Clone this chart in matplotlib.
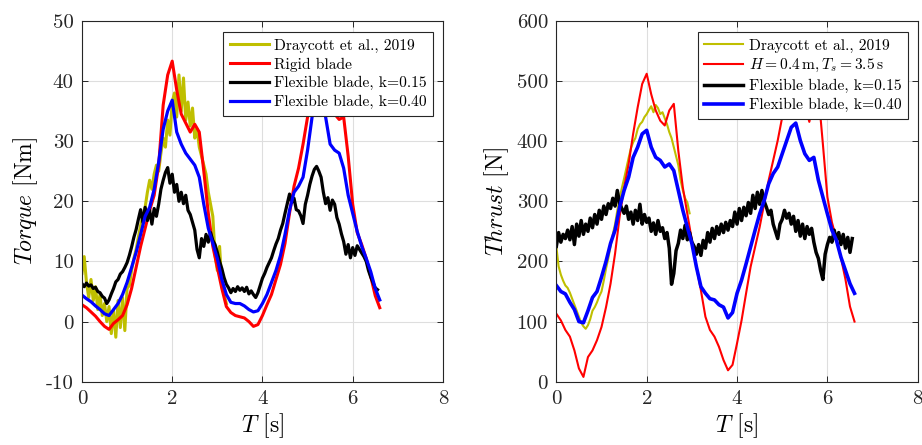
import numpy as np
import matplotlib
matplotlib.use("Agg")
import matplotlib.pyplot as plt

plt.rcParams["font.family"] = "serif"
plt.rcParams["font.serif"] = ["cmr10", "DejaVu Serif"]
plt.rcParams["mathtext.fontset"] = "cm"
plt.rcParams["axes.unicode_minus"] = False
plt.rcParams["axes.formatter.use_mathtext"] = False

# ---- torque (left) ----
dt_fine = 0.05
dt_coarse = 0.1

torque_draycott = [8.0, 10.8, 6.5, 4.0, 7.0, 3.5, 5.8, 2.0, 4.5, 1.0,
                   3.0, 0.0, 2.5, -2.0, 1.8, -2.6, 3.5, -1.0, 4.0, -1.5,
                   5.5, 6.0, 8.5, 10.5, 12.0, 14.0, 16.0, 17.5, 19.0, 21.5,
                   23.5, 22.0, 24.5, 26.0, 25.0, 28.0, 30.5, 29.0, 33.5, 31.0,
                   36.5, 38.0, 34.0, 41.0, 35.0, 40.5, 33.5, 36.5, 32.5, 35.5,
                   30.5, 32.0, 29.0, 27.5, 26.0, 24.5, 21.5, 19.5, 17.5, 11.0,
                   8.5, 12.5, 6.0, 4.5, 3.0]

torque_rigid = [2.8, 2.3, 1.6, 0.9, 0.0, -0.8, -1.3, -0.3, 0.3, 1.0,
                2.8, 5.5, 9.0, 12.5, 15.5, 18.5, 21.0, 26.0, 36.0, 41.0,
                43.3, 38.5, 34.5, 33.0, 31.5, 32.8, 31.5, 25.0, 18.0, 12.5,
                9.0, 5.5, 2.5, 1.5, 1.0, 0.8, 0.6, 0.0, -0.8, -0.5,
                1.0, 2.8, 4.5, 7.0, 9.5, 13.0, 18.0, 22.5, 25.5, 29.5,
                34.0, 38.5, 42.0, 45.0, 45.5, 40.0, 34.5, 33.6, 34.0, 27.5,
                19.5, 14.8, 12.8, 10.5, 7.5, 4.3, 2.3]

torque_k015 = [6.3, 5.8, 6.4, 5.9, 6.1, 5.5, 5.7, 5.0, 4.8, 4.2,
               3.9, 3.0, 3.6, 4.6, 5.5, 6.6, 7.0, 7.9, 8.3, 9.0,
               9.8, 11.0, 12.4, 14.0, 15.3, 17.0, 18.6, 16.5, 19.0, 16.8,
               18.5, 16.2, 18.8, 17.5, 19.5, 22.0, 23.5, 24.8, 25.6, 23.0,
               24.5, 21.5, 22.8, 20.0, 21.5, 19.6, 21.0, 18.5, 17.8, 16.5,
               15.2, 12.0, 10.6, 13.8, 12.5, 14.5, 13.2, 14.8, 13.5, 12.8,
               11.5, 10.0, 8.8, 7.3, 6.2, 5.6, 4.8, 5.5, 5.0, 5.8,
               5.2, 5.6, 5.0, 5.7, 4.6, 5.1, 4.5, 4.0, 4.8, 6.0,
               7.2, 8.0, 9.0, 9.8, 10.6, 11.8, 12.9, 13.8, 15.2, 16.3,
               18.0, 19.6, 21.2, 19.8, 20.5, 18.6, 18.4, 17.6, 16.3, 19.5,
               21.0, 22.8, 24.2, 25.3, 25.8, 25.0, 24.0, 21.5, 19.6, 20.6,
               18.5, 20.2, 19.5, 17.3, 16.2, 14.6, 13.3, 11.2, 12.8, 10.6,
               12.3, 11.0, 12.6, 12.0, 11.4, 10.8, 10.0, 8.5, 7.4, 6.5,
               5.6, 5.3]

torque_k040 = [4.4, 3.8, 3.3, 2.6, 2.0, 1.3, 1.0, 2.0, 3.0, 4.5,
               6.5, 9.0, 11.5, 14.5, 17.5, 19.0, 22.0, 26.5, 32.0, 35.0,
               36.8, 31.5, 29.5, 28.0, 27.0, 26.0, 24.0, 19.5, 15.5, 13.0,
               10.5, 7.0, 4.5, 3.2, 3.0, 3.0, 2.6, 2.0, 1.6, 1.8,
               3.0, 4.5, 6.5, 8.5, 11.0, 14.5, 18.5, 21.5, 22.5, 24.0,
               28.5, 34.0, 37.5, 39.0, 34.0, 29.5, 28.5, 28.0, 25.5, 21.0,
               18.0, 15.0, 12.5, 10.5, 8.3, 5.5, 3.6]

# ---- thrust (right) ----
thrust_draycott = [225, 192, 178, 168, 160, 156, 148, 138, 128, 118,
                   108, 98, 92, 88, 94, 104, 118, 124, 132, 142,
                   150, 168, 188, 205, 225, 245, 262, 285, 305, 322,
                   338, 355, 372, 388, 398, 405, 420, 428, 432, 440,
                   445, 452, 458, 448, 460, 455, 445, 448, 438, 428,
                   415, 405, 390, 375, 360, 335, 318, 305, 298, 280]

thrust_rigid = [113, 102, 86, 75, 52, 22, 8, 41, 52, 69,
                91, 124, 163, 213, 274, 323, 362, 412, 456, 495,
                512, 478, 451, 434, 426, 451, 462, 384, 323, 279,
                235, 191, 152, 108, 86, 75, 58, 36, 19, 28,
                64, 102, 147, 191, 224, 257, 296, 335, 368, 401,
                440, 475, 500, 520, 505, 460, 432, 470, 480, 395,
                307, 265, 237, 206, 170, 125, 100]

thrust_k015 = [225, 248, 232, 245, 238, 252, 236, 258, 228, 262,
               242, 268, 245, 262, 250, 272, 256, 278, 262, 285,
               270, 292, 278, 296, 288, 305, 292, 318, 296, 288,
               280, 292, 270, 282, 262, 285, 268, 295, 262, 278,
               265, 272, 250, 264, 245, 268, 250, 256, 238, 248,
               222, 162, 180, 218, 230, 252, 238, 260, 236, 248,
               232, 225, 212, 228, 210, 235, 222, 248, 232, 255,
               238, 258, 245, 262, 248, 265, 252, 268, 258, 282,
               262, 288, 268, 290, 276, 298, 280, 310, 288, 315,
               295, 318, 300, 290, 278, 285, 262, 250, 238, 262,
               270, 285, 272, 280, 262, 275, 250, 268, 242, 262,
               238, 258, 245, 255, 232, 215, 205, 185, 170, 212,
               228, 240, 232, 252, 236, 248, 228, 245, 222, 240,
               215, 238]

thrust_k040 = [160, 150, 146, 132, 120, 100, 98, 118, 140, 150,
               174, 200, 230, 252, 290, 318, 340, 373, 390, 412,
               418, 390, 373, 368, 357, 362, 351, 318, 285, 257,
               230, 191, 158, 147, 138, 136, 128, 124, 106, 115,
               147, 169, 196, 224, 252, 279, 301, 329, 346, 357,
               379, 401, 423, 430, 401, 379, 368, 373, 335, 307,
               279, 252, 235, 207, 185, 163, 147]

legend_left = ["Draycott et al., 2019", "Rigid blade",
               "Flexible blade, k=0.15", "Flexible blade, k=0.40"]
legend_right = ["Draycott et al., 2019",
                r"$H=0.4\,\mathrm{m}, T_s=3.5\,\mathrm{s}$",
                "Flexible blade, k=0.15", "Flexible blade, k=0.40"]

yellow = "#bfbf00"


def times(vals, dt):
    return np.arange(len(vals)) * dt


def style_axes(ax, ylim, yticks, ylabel):
    ax.set_xlim(0, 8)
    ax.set_ylim(*ylim)
    ax.set_xticks([0, 2, 4, 6, 8])
    ax.set_yticks(yticks)
    ax.grid(True, color="#dedede", linewidth=0.8)
    ax.set_axisbelow(True)
    ax.tick_params(direction="in", top=True, right=True, length=4,
                   width=0.7, labelsize=15, colors="#262626", pad=6)
    for s in ax.spines.values():
        s.set_color("#262626")
        s.set_linewidth(0.8)
    ax.set_xlabel(r"$T$ [s]", fontsize=17, labelpad=2)
    ax.set_ylabel(ylabel, fontsize=17, labelpad=4)


def add_legend(ax, labels):
    leg = ax.legend(labels, loc="upper right", bbox_to_anchor=(0.972, 0.968),
                    borderaxespad=0, fontsize=11.2, fancybox=False,
                    framealpha=1, edgecolor="#262626", handlelength=2.5,
                    handletextpad=0.35, labelspacing=0.3, borderpad=0.4)
    leg.get_frame().set_linewidth(0.8)
    leg.set_zorder(10)


fig = plt.figure(figsize=(9.22, 4.45), dpi=100)
ax1 = fig.add_axes([0.0889, 0.1422, 0.3915, 0.811])
ax2 = fig.add_axes([0.6034, 0.1422, 0.392, 0.811])

ax1.plot(times(torque_draycott, dt_fine), torque_draycott, color=yellow, lw=2.2)
ax1.plot(times(torque_rigid, dt_coarse), torque_rigid, color="red", lw=2.2)
ax1.plot(times(torque_k015, dt_fine), torque_k015, color="black", lw=2.3)
ax1.plot(times(torque_k040, dt_coarse), torque_k040, color="blue", lw=2.3)
style_axes(ax1, (-10, 50), [-10, 0, 10, 20, 30, 40, 50], r"$Torque$ [Nm]")
add_legend(ax1, legend_left)

ax2.plot(times(thrust_draycott, dt_fine), thrust_draycott, color=yellow, lw=1.5)
ax2.plot(times(thrust_rigid, dt_coarse), thrust_rigid, color="red", lw=1.5)
ax2.plot(times(thrust_k015, dt_fine), thrust_k015, color="black", lw=2.5)
ax2.plot(times(thrust_k040, dt_coarse), thrust_k040, color="blue", lw=2.6)
style_axes(ax2, (0, 600), [0, 100, 200, 300, 400, 500, 600], r"$Thrust$ [N]")
add_legend(ax2, legend_right)

fig.savefig("out.png", dpi=100)
